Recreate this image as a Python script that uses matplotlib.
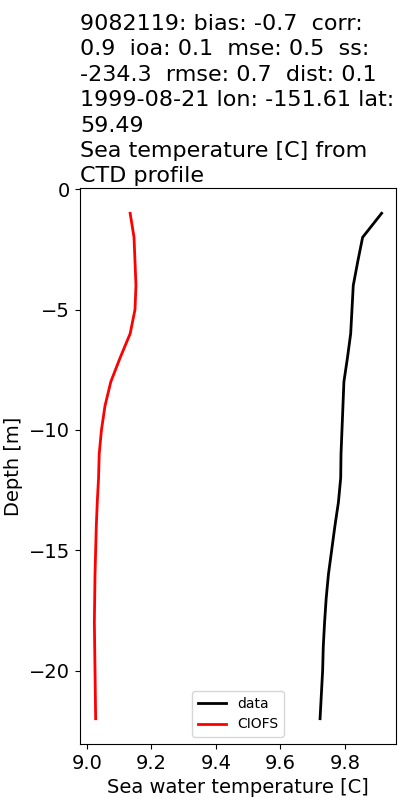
import matplotlib
matplotlib.use("Agg")
import matplotlib.pyplot as plt

depth = [-1, -2, -3, -4, -5, -6, -7, -8, -9, -10, -11, -12, -13, -14, -15, -16, -17, -18, -19, -20, -21, -22]
data_temp = [9.914, 9.855, 9.840, 9.826, 9.822, 9.818, 9.808, 9.797, 9.794, 9.791, 9.788,
             9.787, 9.780, 9.769, 9.759, 9.749, 9.742, 9.737, 9.733, 9.731, 9.727, 9.723]
model_temp = [9.134, 9.146, 9.149, 9.152, 9.149, 9.134, 9.103, 9.074, 9.056, 9.045, 9.038,
              9.036, 9.032, 9.029, 9.027, 9.025, 9.024, 9.023, 9.024, 9.025, 9.026, 9.027]

title = ("9082119: bias: -0.7  corr:\n0.9  ioa: 0.1  mse: 0.5  ss:\n-234.3  rmse: 0.7  dist: 0.1\n"
         "1999-08-21 lon: -151.61 lat:\n59.49\nSea temperature [C] from\nCTD profile")

fig = plt.figure(figsize=(4, 8), dpi=100)
ax = fig.add_axes([0.2, 0.07, 0.79, 0.695])
ax.plot(data_temp, depth, color="black", lw=2, label="data")
ax.plot(model_temp, depth, color="red", lw=2, label="CIOFS")
ax.set_title(title, loc="left", fontsize=16, linespacing=1.34, pad=4)
ax.set_xlabel("Sea water temperature [C]", fontsize=14)
ax.set_ylabel("Depth [m]", fontsize=14)
ax.tick_params(labelsize=14)
ax.set_xticks([9.0, 9.2, 9.4, 9.6, 9.8])
ax.set_yticks([0, -5, -10, -15, -20])
ax.legend(loc="lower center", fontsize=10)
fig.savefig("out.png", dpi=100)
